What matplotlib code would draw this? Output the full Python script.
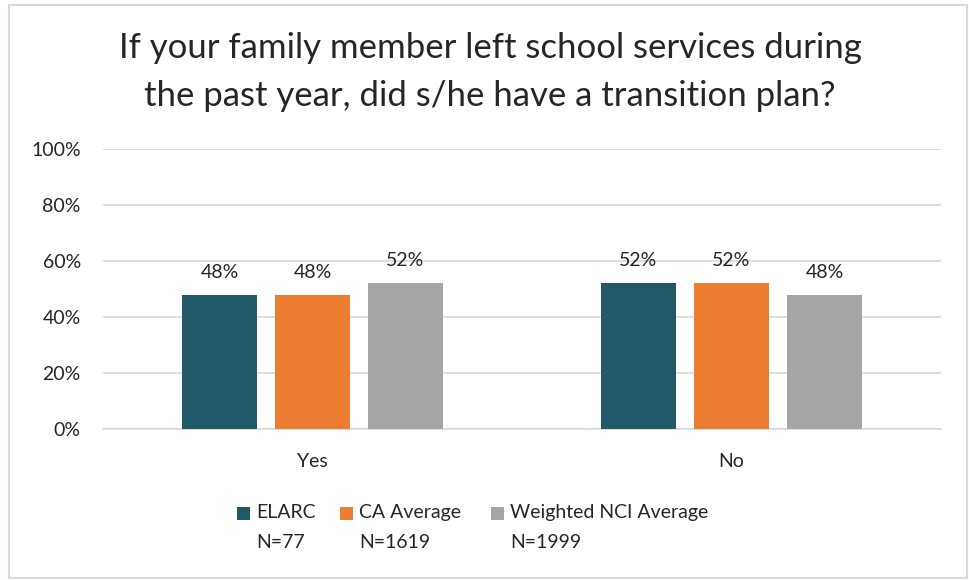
import matplotlib
matplotlib.use("Agg")
import matplotlib.pyplot as plt
from matplotlib.patches import Rectangle
import numpy as np

categories = ["Yes", "No"]
series_names = ["ELARC\nN=77", "CA Average\nN=1619", "Weighted NCI Average\nN=1999"]
elarc = [48, 52]
ca_avg = [48, 52]
nci_avg = [52, 48]
yticks = [0, 20, 40, 60, 80, 100]
colors = ["#215968", "#ED7D31", "#A5A5A5"]

plt.rcParams['font.family'] = ['Lato', 'DejaVu Sans']
txtcol = "#262626"

fig = plt.figure(figsize=(9.69, 5.8), dpi=100)
ax = fig.add_axes([103/969, 1-429/580, (941-103)/969, (429-149)/580])

x = np.arange(len(categories))
width = 0.177
offset = 0.222
series = [elarc, ca_avg, nci_avg]
for i, (vals, col) in enumerate(zip(series, colors)):
    pos = x + (i-1)*offset
    ax.bar(pos, vals, width=width, color=col, zorder=3)
    for p, v in zip(pos, vals):
        ax.text(p, v + 5, f"{v}%", ha="center", va="bottom", fontsize=14, color=txtcol)

ax.set_xlim(-0.5, 1.5)
ax.set_ylim(0, 100)
ax.set_yticks(yticks)
ax.set_yticklabels([f"{t}%" for t in yticks], fontsize=14, color=txtcol)
ax.set_xticks(x)
ax.set_xticklabels(categories, fontsize=14, color=txtcol)
ax.yaxis.grid(True, color="#D9D9D9", linewidth=1.2, zorder=0)
for s in ax.spines.values():
    s.set_visible(False)
ax.spines['bottom'].set_visible(True)
ax.spines['bottom'].set_color("#D9D9D9")
ax.spines['bottom'].set_linewidth(1.2)
ax.tick_params(axis='y', length=0, pad=16)
ax.tick_params(axis='x', length=0, pad=17)

fig.text(490/969, 1-72/580, "If your family member left school services during\nthe past year, did s/he have a transition plan?",
         ha="center", va="center", fontsize=25, color=txtcol, linespacing=1.65)

# legend: square marker aligned with first line, label text two lines
sq_x = [237, 340, 491]
sq = 13
for sx, name, c in zip(sq_x, series_names, colors):
    fig.patches.append(Rectangle((sx/969, 1-(513+sq/2)/580), sq/969, sq/580,
                                 transform=fig.transFigure, facecolor=c, edgecolor="none"))
    fig.text((sx+sq+6)/969, 1-504/580, name, ha="left", va="top", fontsize=14,
             color=txtcol, linespacing=1.95)

fig.patches.append(Rectangle((9/969, 2/580), (967-9)/969, (575-2)/580, transform=fig.transFigure,
                             fill=False, edgecolor="#D9D9D9", linewidth=1.5))

fig.savefig("out.png", dpi=100, facecolor="white")
